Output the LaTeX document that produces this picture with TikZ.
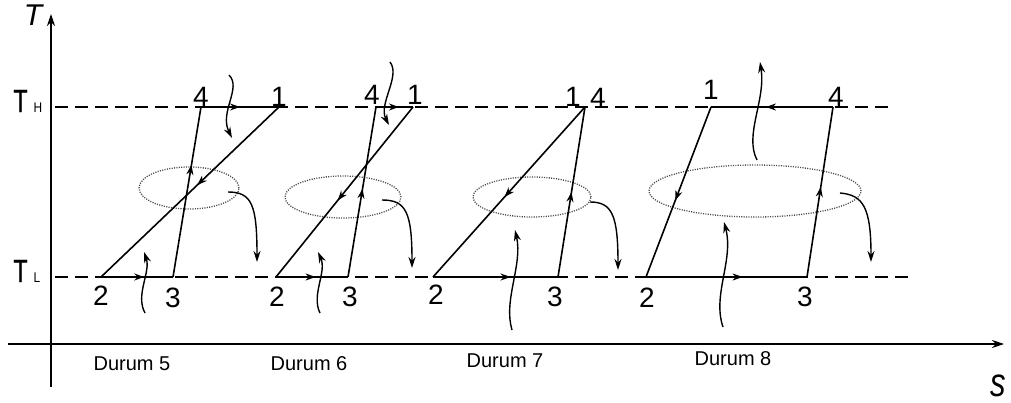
\documentclass[tikz,border=0pt]{standalone}
\usepackage{fontspec}
\setmainfont{Liberation Sans}
\usetikzlibrary{arrows.meta,decorations.markings}
\begin{document}
\begin{tikzpicture}[x=1pt,y=-1pt,
  cyc/.style={line width=1.6pt},
  axis/.style={line width=1.5pt,-{Stealth[length=12pt,width=8pt]}},
  dashline/.style={line width=1.5pt, dash pattern=on 13pt off 7pt},
  marr/.style={postaction={decorate},decoration={markings,mark=at position #1 with {\arrow{Stealth[length=10pt,width=7pt]}}}},
  heat/.style={line width=1.4pt,-{Stealth[length=11pt,width=7pt]}},
  loope/.style={draw=black!70,line width=1.3pt,dash pattern=on 1.1pt off 1.3pt},
  num/.style={font=\fontsize{28}{28}\selectfont, inner sep=0pt},
  dur/.style={font=\fontsize{20}{20}\selectfont, inner sep=0pt},
  big/.style={font=\fontsize{32}{32}\selectfont\addfontfeature{FakeBold=1.2}, inner sep=0pt},
  sub/.style={font=\fontsize{14}{14}\selectfont, inner sep=0pt},
]
\useasboundingbox (0,0) rectangle (1011,403);
% axes
\coordinate (yb) at (51,387); \coordinate (yt) at (51,14);
\coordinate (xl) at (8,344); \coordinate (xr) at (1004,344);
\draw[axis] (yb) -- (yt);
\draw[axis] (xl) -- (xr);
\node[font=\fontsize{30}{30}\selectfont\itshape, inner sep=0pt] (Tax) at (33,15) {T};
\node[font=\fontsize{31}{31}\selectfont\itshape, inner sep=0pt] (sax) at (998,386) {\scalebox{1}[1.3]{s}};
% temperature levels
\coordinate (hl) at (55,107); \coordinate (hr) at (895,107);
\coordinate (ll) at (55,277); \coordinate (lr) at (913,277);
\draw[dashline] (hl) -- (hr);
\draw[dashline] (ll) -- (lr);
\node[big] (TH) at (20.5,101) {\scalebox{0.72}[1]{T}};
\node[sub] (THs) at (38,107.5) {\scalebox{0.85}[1]{H}};
\node[big] (TL) at (20.5,271) {\scalebox{0.72}[1]{T}};
\node[sub] (TLs) at (37,277.5) {\scalebox{0.85}[1]{L}};

% ---------- Durum 5 ----------
\coordinate (a1) at (279,107); \coordinate (a2) at (101,277);
\coordinate (a3) at (173,277); \coordinate (a4) at (201,107);
\draw[loope] (189,188) ellipse [x radius=50pt, y radius=21pt];
\draw[cyc,marr=0.5] (a4) -- (a1);
\draw[cyc,marr=0.46] (a1) -- (a2);
\draw[cyc,marr=0.6] (a2) -- (a3);
\draw[cyc,marr=0.66] (a3) -- (a4);
\node[num] (a1l) at (279,97) {1};
\node[num] (a4l) at (201,97) {4};
\node[num] (a2l) at (101,296) {2};
\node[num] (a3l) at (173,298) {3};
\coordinate (a5) at (229,75); \coordinate (a6) at (232,138);
\draw[heat] (a5) .. controls (242,88) and (219,112) .. (a6);
\coordinate (a7) at (145,313); \coordinate (a8) at (144,252);
\draw[heat] (a7) .. controls (135,295) and (151,272) .. (a8);
\coordinate (a9) at (228,192); \coordinate (a10) at (257,262);
\draw[heat] (a9) .. controls (252,192) and (257,205) .. (a10);
\node[dur] (d5) at (132,364) {Durum 5};

% ---------- Durum 6 ----------
\coordinate (b1) at (413,107); \coordinate (b2) at (276,277);
\coordinate (b3) at (348,277); \coordinate (b4) at (376,107);
\draw[loope] (343,197) ellipse [x radius=58pt, y radius=21pt];
\draw[cyc,marr=0.62] (b4) -- (b1);
\draw[cyc,marr=0.55] (b1) -- (b2);
\draw[cyc,marr=0.55] (b2) -- (b3);
\draw[cyc,marr=0.52] (b3) -- (b4);
\node[num] (b1l) at (415,95) {1};
\node[num] (b4l) at (372,95) {4};
\node[num] (b2l) at (277,297) {2};
\node[num] (b3l) at (350,297) {3};
\coordinate (b5) at (390,62); \coordinate (b6) at (389,125);
\draw[heat] (b5) .. controls (401,76) and (378,104) .. (b6);
\coordinate (b7) at (320,313); \coordinate (b8) at (318,252);
\draw[heat] (b7) .. controls (311,295) and (327,272) .. (b8);
\coordinate (b9) at (382,200); \coordinate (b10) at (412,268);
\draw[heat] (b9) .. controls (406,200) and (412,212) .. (b10);
\node[dur] (d6) at (309,364) {Durum 6};

% ---------- Durum 7 ----------
\coordinate (c1) at (585,107); \coordinate (c2) at (433,277);
\coordinate (c3) at (558,277);
\draw[loope] (532,197) ellipse [x radius=59pt, y radius=20pt];
\draw[cyc,marr=0.53] (c1) -- (c2);
\draw[cyc,marr=0.62] (c2) -- (c3);
\draw[cyc,marr=0.5] (c3) -- (c1);
\node[num] (c1l) at (573,97) {1};
\node[num] (c4l) at (598,98) {4};
\node[num] (c2l) at (436,295) {2};
\node[num] (c3l) at (555,297) {3};
\coordinate (c7) at (512,330); \coordinate (c8) at (515,230);
\draw[heat] (c7) .. controls (503,300) and (523,265) .. (c8);
\coordinate (c9) at (590,202); \coordinate (c10) at (618,270);
\draw[heat] (c9) .. controls (612,202) and (618,215) .. (c10);
\node[dur] (d7) at (505,361) {Durum 7};

% ---------- Durum 8 ----------
\coordinate (e1) at (711,107); \coordinate (e2) at (646,277);
\coordinate (e3) at (807,277); \coordinate (e4) at (833,107);
\draw[loope] (755,191) ellipse [x radius=106pt, y radius=26pt];
\draw[cyc,marr=0.55] (e4) -- (e1);
\draw[cyc,marr=0.55] (e1) -- (e2);
\draw[cyc,marr=0.6] (e2) -- (e3);
\draw[cyc,marr=0.53] (e3) -- (e4);
\node[num] (e1l) at (711,90) {1};
\node[num] (e4l) at (836,97) {4};
\node[num] (e2l) at (647,298) {2};
\node[num] (e3l) at (805,297) {3};
\coordinate (e5) at (757,160); \coordinate (e6) at (760,62);
\draw[heat] (e5) .. controls (744,135) and (766,100) .. (e6);
\coordinate (e7) at (723,327); \coordinate (e8) at (724,222);
\draw[heat] (e7) .. controls (712,295) and (734,260) .. (e8);
\coordinate (e9) at (840,193); \coordinate (e10) at (871,262);
\draw[heat] (e9) .. controls (863,195) and (871,207) .. (e10);
\node[dur] (d8) at (733,359) {Durum 8};
\end{tikzpicture}
\end{document}
